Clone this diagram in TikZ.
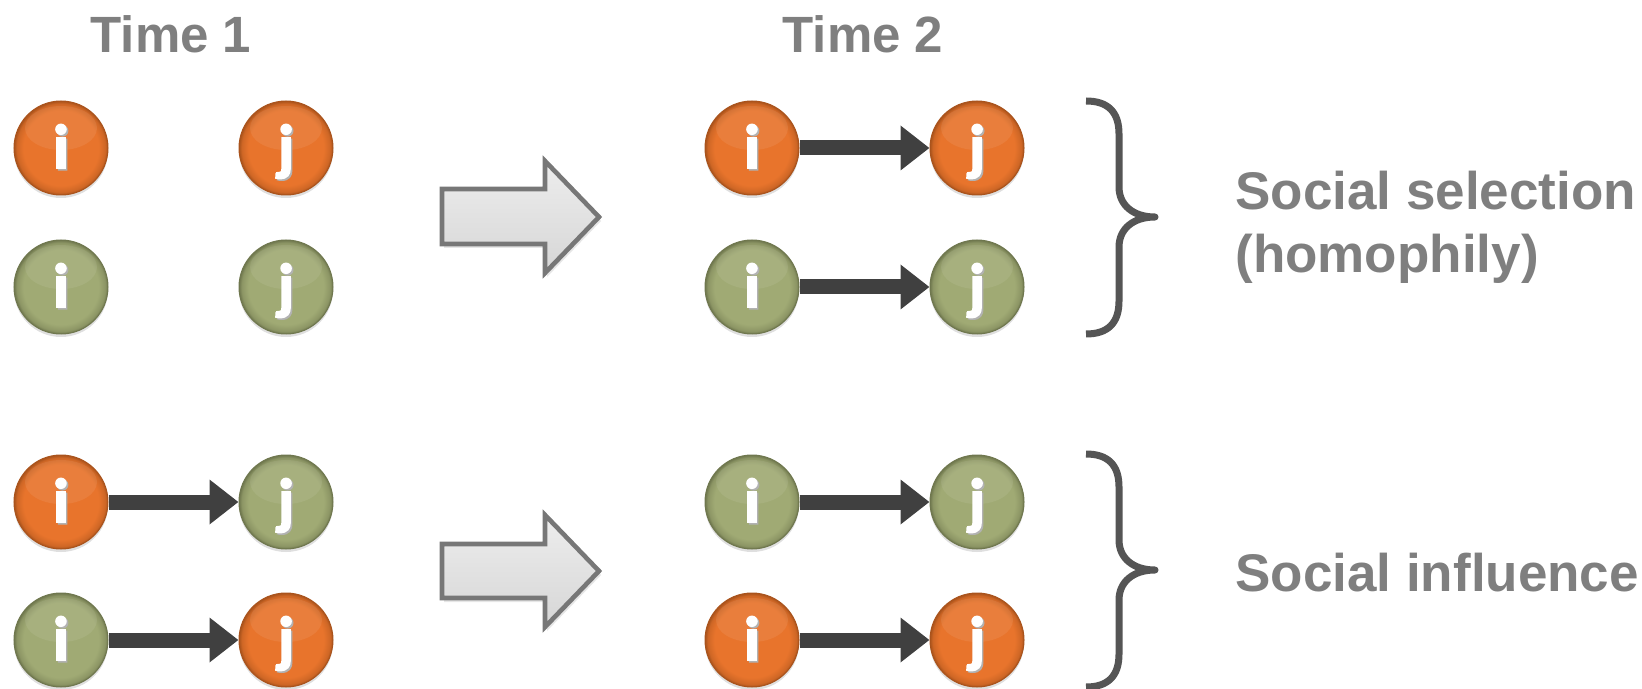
\documentclass[tikz,border=0pt]{standalone}
\usepackage{fontspec}
\setmainfont{Liberation Sans}
\newfontfamily\letterfont{Carlito}[UprightFont={* Bold}, UprightFeatures={FakeBold=3}]
\usetikzlibrary{arrows.meta,shadows,calc}
\definecolor{txtgray}{HTML}{7F7F7F}
\definecolor{orB}{HTML}{E8742C}
\definecolor{orD}{HTML}{A9531C}
\definecolor{grB}{HTML}{A0AA74}
\definecolor{grD}{HTML}{6F774E}
\definecolor{linkc}{HTML}{404040}
\definecolor{bracec}{HTML}{555555}
\definecolor{arrB}{HTML}{777777}
\pgfdeclareradialshading{orshade}{\pgfpoint{0bp}{0bp}}{color(0bp)=(orB); color(20bp)=(orB); color(23.5bp)=(orB!60!orD); color(25bp)=(orD); color(50bp)=(orD)}
\pgfdeclareradialshading{grshade}{\pgfpoint{0bp}{0bp}}{color(0bp)=(grB); color(20bp)=(grB); color(23.5bp)=(grB!60!grD); color(25bp)=(grD); color(50bp)=(grD)}
\newcommand\shl[1]{\makebox[0pt][l]{\kern0.8pt\raisebox{-0.8pt}{\textcolor{black!30}{#1}}}#1}
\tikzset{
  ball/.style={circle, minimum size=47pt, inner sep=0pt, line width=0.5pt,
    drop shadow={shadow xshift=0pt, shadow yshift=-1.5pt, opacity=0.25},
    path picture={\fill[white, opacity=0.08] ($(path picture bounding box.center)+(0,-20)$) ellipse (36 and 22);}},
  orball/.style={ball, shading=orshade, draw=orD},
  grball/.style={ball, shading=grshade, draw=grD},
  letter/.style={anchor=base, inner sep=0pt, text=white, font=\letterfont\fontsize{31pt}{31pt}\selectfont},
  link/.style={draw=linkc, line width=7.5pt, -{Triangle[width=21.5pt,length=14.5pt]}},
  bigarrow/.style={draw=arrB, line width=2.3pt, line join=miter, top color=gray!14, bottom color=gray!32,
    drop shadow={shadow xshift=1pt, shadow yshift=-2pt, opacity=0.2}},
  brace/.style={draw=bracec, line width=3.5pt, line join=round},
  title/.style={anchor=base, inner sep=0pt, text=txtgray, font=\bfseries\fontsize{25.5pt}{30pt}\selectfont},
  label/.style={anchor=base west, inner sep=0pt, text=txtgray, font=\bfseries\fontsize{26.5pt}{31pt}\selectfont}
}
\begin{document}
\begin{tikzpicture}[x=0.5pt,y=-0.5pt]
\useasboundingbox (0,0) rectangle (1642,689);
% titles
\node[title] (time1) at (171,53) {Time 1};
\node[title] (time2) at (863,53) {Time 2};
% Time 1 circles
\node[orball] (a1) at (61,148) {};
\node[orball] (b1) at (286,148) {};
\node[grball] (a2) at (61,287) {};
\node[grball] (b2) at (286,287) {};
\node[orball] (a3) at (61,502) {};
\node[grball] (b3) at (286,502) {};
\node[grball] (a4) at (61,640) {};
\node[orball] (b4) at (286,640) {};
% Time 2 circles
\node[orball] (c1) at (752,148) {};
\node[orball] (d1) at (977,148) {};
\node[grball] (c2) at (752,287) {};
\node[grball] (d2) at (977,287) {};
\node[grball] (c3) at (752,502) {};
\node[grball] (d3) at (977,502) {};
\node[orball] (c4) at (752,640) {};
\node[orball] (d4) at (977,640) {};
% letters
\foreach \n in {a1,a2,a3,a4,c1,c2,c3,c4}{\node[letter] (t\n) at ($(\n)+(0,20)$) {\shl{i}};}
\foreach \n in {b1,b2,b3,b4,d1,d2,d3,d4}{\node[letter] (t\n) at ($(\n)+(0,20)$) {\shl{j}};}
% links
\draw[link] (a3.east) -- (b3.west);
\draw[link] (a4.east) -- (b4.west);
\draw[link] (c1.east) -- (d1.west);
\draw[link] (c2.east) -- (d2.west);
\draw[link] (c3.east) -- (d3.west);
\draw[link] (c4.east) -- (d4.west);
% big arrows
\draw[bigarrow] (442,189) -- (545,189) -- (545,161) -- (599,217) -- (545,273) -- (545,244) -- (442,244) -- cycle;
\draw[bigarrow] (442,544) -- (545,544) -- (545,515) -- (599,571) -- (545,627) -- (545,598) -- (442,598) -- cycle;
% braces
\draw[brace] (1086,101) .. controls (1108,101) and (1119,112) .. (1119,134) -- (1119,187)
  .. controls (1119,205) and (1133,217) .. (1155,217)
  .. controls (1133,217) and (1119,229) .. (1119,247) -- (1119,301)
  .. controls (1119,323) and (1108,334) .. (1086,334);
\draw[brace] (1086,454) .. controls (1108,454) and (1119,465) .. (1119,487) -- (1119,540)
  .. controls (1119,558) and (1133,570) .. (1155,570)
  .. controls (1133,570) and (1119,582) .. (1119,600) -- (1119,654)
  .. controls (1119,676) and (1108,687) .. (1086,687);
% labels
\node[label] (sel) at (1235,210) {Social selection};
\node[label] (hom) at (1235,273) {(homophily)};
\node[label] (inf) at (1235,591) {Social influence};
\end{tikzpicture}
\end{document}
